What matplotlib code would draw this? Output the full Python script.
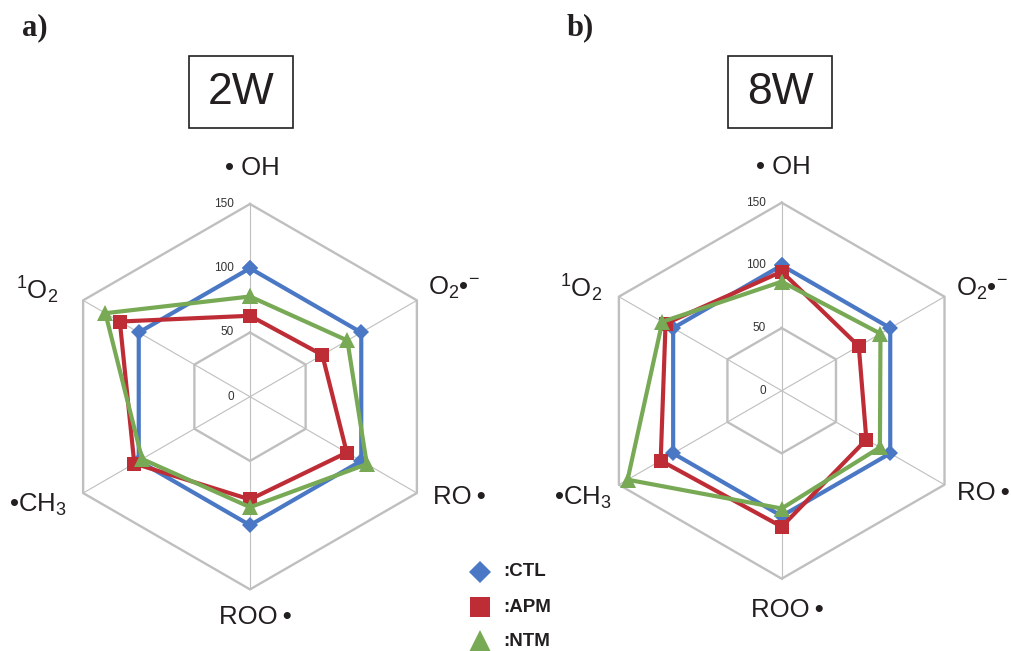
import numpy as np
import matplotlib
matplotlib.use('Agg')
import matplotlib.pyplot as plt
from matplotlib.patches import Rectangle

plt.rcParams['font.family'] = ['Liberation Sans', 'DejaVu Sans']
plt.rcParams['mathtext.fontset'] = 'custom'
plt.rcParams['mathtext.rm'] = 'Liberation Sans'
plt.rcParams['mathtext.it'] = 'Liberation Sans:italic'
plt.rcParams['mathtext.bf'] = 'Liberation Sans:bold'

# data (relative values, CTL = 100)
axis_labels = ['\u2022 OH', 'O$_2$\u2022$^{-}$', 'RO\u2009\u2022', 'ROO\u2009\u2022',
               '\u2022CH$_3$', '$^1$O$_2$']
ring_ticks = [0, 50, 100, 150]
series_names = ['CTL', 'APM', 'NTM']

ctl_2w = [100, 100, 100, 100, 100, 100]
apm_2w = [63, 65, 87, 80, 104, 117]
ntm_2w = [78, 87.5, 105, 86, 97, 130]

ctl_8w = [100, 100, 100, 100, 100, 100]
apm_8w = [95, 71, 78, 108.5, 111.5, 107]
ntm_8w = [87, 91, 90.5, 94, 142, 110]

colors = {'CTL': '#4a78c4', 'APM': '#be2d36', 'NTM': '#78a955'}
markers = {'CTL': ('D', 8), 'APM': ('s', 10), 'NTM': ('^', 12)}
gridc = '#bfbfbf'

W, H = 1011, 651
fig = plt.figure(figsize=(W/100, H/100), dpi=100)

theta = np.deg2rad(90 - 60*np.arange(6))

def radar(cx, cy, scale, data, label_off):
    ax = fig.add_axes([0, 0, 1, 1])
    ax.set_xlim(-cx/scale, (W-cx)/scale)
    ax.set_ylim(-(H-cy)/scale, cy/scale)
    ax.axis('off')
    ax.patch.set_alpha(0)
    # rings + spokes
    for t in ring_ticks[1:]:
        xs = np.append(t*np.cos(theta), t*np.cos(theta[0]))
        ys = np.append(t*np.sin(theta), t*np.sin(theta[0]))
        ax.plot(xs, ys, color=gridc, lw=1.7, zorder=1)
    for th in theta:
        ax.plot([0, 150*np.cos(th)], [0, 150*np.sin(th)], color=gridc, lw=0.8, zorder=1)
    for t in ring_ticks:
        ax.annotate(str(t), (0, t), xytext=(-16, 0), textcoords='offset pixels',
                    ha='right', va='center', fontsize=8.5, color='#333333')
    # series
    for name, vals in zip(series_names, data):
        r = np.array(vals + vals[:1], dtype=float)
        th = np.append(theta, theta[0])
        m, ms = markers[name]
        ax.plot(r*np.cos(th), r*np.sin(th), color=colors[name], lw=3,
                marker=m, ms=ms, mew=0, zorder=3, clip_on=False)
    # axis labels
    for i, lab in enumerate(axis_labels):
        dx, dy, ha = label_off[i]
        ax.annotate(lab, (150*np.cos(theta[i]), 150*np.sin(theta[i])), xytext=(dx, dy),
                    textcoords='offset pixels', ha=ha, va='center', fontsize=18.5,
                    color='#231f20')
    return ax

off_a = [(2, 36, 'center'), (11, 12, 'left'), (16, -4, 'left'),
         (5, -28, 'center'), (-16, -12, 'right'), (-25, 10, 'right')]
off_b = [(2, 36, 'center'), (11, 8, 'left'), (12, -8, 'left'),
         (6, -31, 'center'), (-7, -13, 'right'), (-17, 8, 'right')]

radar(250, 396.7, 192.7/150, [ctl_2w, apm_2w, ntm_2w], off_a)
radar(781.7, 390.7, 188.0/150, [ctl_8w, apm_8w, ntm_8w], off_b)

# boxed titles
for x0, txt in [(189, '2W'), (728, '8W')]:
    fig.patches.append(Rectangle((x0/W, 1-128/H), 104/W, 72/H, transform=fig.transFigure,
                                 fill=False, ec='#231f20', lw=1.2))
    fig.text((x0+52)/W, 1-92/H, txt, ha='center', va='center', fontsize=32, color='#231f20')

# panel labels
fig.text(22/W, 1-35/H, 'a)', family='Liberation Serif', weight='bold', fontsize=22,
         ha='left', va='baseline', color='#231f20')
fig.text(567/W, 1-35/H, 'b)', family='Liberation Serif', weight='bold', fontsize=22,
         ha='left', va='baseline', color='#231f20')

# legend
leg_ax = fig.add_axes([0, 0, 1, 1])
leg_ax.set_xlim(0, W)
leg_ax.set_ylim(H, 0)
leg_ax.axis('off')
leg_ax.patch.set_alpha(0)
for k, name in enumerate(series_names):
    y = 572 + 35*k
    m, ms = markers[name]
    leg_ax.plot([480], [y], marker=m, ms=ms*1.45, color=colors[name], mew=0, clip_on=False)
    leg_ax.text(503, y, ':' + name, ha='left', va='center', fontsize=13.5, weight='bold',
                color='#231f20')

fig.savefig('out.png', dpi=100)
